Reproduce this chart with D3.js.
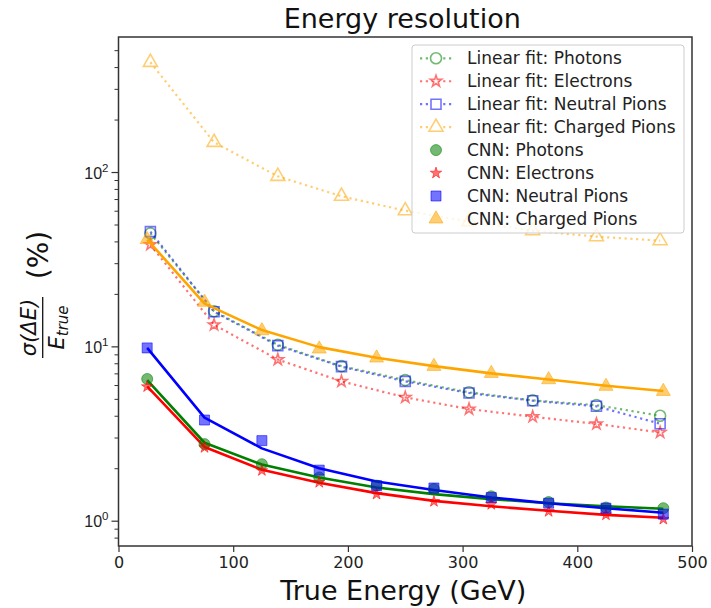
<!DOCTYPE html>
<html><head><meta charset="utf-8">
<script src="https://cdn.jsdelivr.net/npm/d3@7"></script>
<style>
html,body{margin:0;padding:0;background:#fff;}
svg{display:block;font-family:"DejaVu Sans",sans-serif;}
</style></head>
<body><svg id="chart" width="711" height="608"></svg>
<script>
// ---- data ----
const fitEnergy = [27.8, 83.3, 138.9, 194.4, 250, 305.6, 361.1, 416.7, 472.2];
const fitPhotons = [44.5, 15.9, 10.2, 7.7, 6.4, 5.45, 4.9, 4.6, 4.0];
const fitElectrons = [38.3, 13.3, 8.4, 6.3, 5.1, 4.37, 3.95, 3.59, 3.21];
const fitNeutralPions = [45.5, 15.8, 10.1, 7.65, 6.3, 5.4, 4.88, 4.53, 3.6];
const fitChargedPions = [426, 148, 94.5, 72.6, 60, 52, 46.1, 42.6, 40.4];

const cnnEnergy = [25, 75, 125, 175, 225, 275, 325, 375, 425, 475];
const cnnPhotons = [6.5, 2.75, 2.11, 1.77, 1.59, 1.52, 1.38, 1.28, 1.19, 1.18];
const cnnElectrons = [5.87, 2.63, 1.94, 1.66, 1.42, 1.29, 1.24, 1.13, 1.08, 1.02];
const cnnNeutralPions = [9.8, 3.78, 2.88, 1.95, 1.59, 1.54, 1.36, 1.26, 1.18, 1.09];
const cnnChargedPions = [41, 17.9, 12.3, 9.66, 8.58, 7.68, 7.0, 6.44, 5.9, 5.52];

// CNN resolution fit curves at the CNN energies
const curvePhotons = [6.4, 2.8, 2.1, 1.77, 1.55, 1.42, 1.33, 1.26, 1.21, 1.17];
const curveElectrons = [5.9, 2.65, 1.96, 1.65, 1.44, 1.30, 1.21, 1.14, 1.08, 1.04];
const curveNeutralPions = [9.8, 3.9, 2.6, 2.0, 1.68, 1.5, 1.36, 1.26, 1.18, 1.11];
const curveChargedPions = [41, 17.6, 12.4, 9.9, 8.6, 7.7, 7.0, 6.45, 5.95, 5.55];

const xTicks = [0, 100, 200, 300, 400, 500];
const yMajor = [1, 10, 100];
const yMinor = [0.8, 0.9, 2,3,4,5,6,7,8,9, 20,30,40,50,60,70,80,90, 200,300,400,500];

const legendLabels = ["Linear fit: Photons","Linear fit: Electrons","Linear fit: Neutral Pions","Linear fit: Charged Pions",
  "CNN: Photons","CNN: Electrons","CNN: Neutral Pions","CNN: Charged Pions"];

// ---- layout ----
const svg = d3.select("#chart");
const L = 118.5, R = 692, T = 37, B = 546;
const x = d3.scaleLinear().domain([0, 500]).range([L, R]);
const y = d3.scaleLog().domain([0.716, 595]).range([B, T]);

const colGreen = "#008000", colRed = "#ff0000", colBlue = "#0000ff", colOrange = "#ffa500";

const fitSeries = [
  {vals: fitPhotons, color: colGreen, sym: d3.symbolCircle, size: 95},
  {vals: fitElectrons, color: colRed, sym: d3.symbolStar, size: 40},
  {vals: fitNeutralPions, color: colBlue, sym: d3.symbolSquare, size: 100},
  {vals: fitChargedPions, color: colOrange, sym: d3.symbolTriangle, size: 85}
];
const cnnSeries = [
  {vals: cnnPhotons, curve: curvePhotons, color: colGreen, sym: d3.symbolCircle, size: 95},
  {vals: cnnElectrons, curve: curveElectrons, color: colRed, sym: d3.symbolStar, size: 40},
  {vals: cnnNeutralPions, curve: curveNeutralPions, color: colBlue, sym: d3.symbolSquare, size: 100},
  {vals: cnnChargedPions, curve: curveChargedPions, color: colOrange, sym: d3.symbolTriangle, size: 85}
];

const g = svg.append("g");
g.append("defs").append("clipPath").attr("id","clip").append("rect")
  .attr("x", L).attr("y", T).attr("width", R-L).attr("height", B-T);
const plot = g.append("g").attr("clip-path","url(#clip)");

// linear fit dotted lines + hollow markers
fitSeries.forEach(s => {
  const line = d3.line().x((d,i)=>x(fitEnergy[i])).y(d=>y(d));
  plot.append("path").datum(s.vals).attr("d", line)
    .attr("fill","none").attr("stroke", s.color).attr("stroke-opacity",0.55)
    .attr("stroke-width",2.2).attr("stroke-dasharray","2.2,3.6").attr("stroke-linecap","butt");
});
fitSeries.forEach(s => {
  plot.selectAll(null).data(s.vals).enter().append("path")
    .attr("d", d3.symbol().type(s.sym).size(s.size))
    .attr("transform",(d,i)=>`translate(${x(fitEnergy[i])},${y(d)})`)
    .attr("fill","none").attr("stroke", s.color).attr("stroke-opacity",0.55).attr("stroke-width",1.6);
});

// CNN curves and filled markers
cnnSeries.forEach(s => {
  const line = d3.line().x((d,i)=>x(cnnEnergy[i])).y(d=>y(d));
  plot.append("path").datum(s.curve).attr("d", line)
    .attr("fill","none").attr("stroke", s.color).attr("stroke-width",2.6).attr("stroke-linejoin","round");
});
cnnSeries.forEach(s => {
  plot.selectAll(null).data(s.vals).enter().append("path")
    .attr("d", d3.symbol().type(s.sym).size(s.size))
    .attr("transform",(d,i)=>`translate(${x(cnnEnergy[i])},${y(d)})`)
    .attr("fill", s.color).attr("fill-opacity",0.55)
    .attr("stroke", s.color).attr("stroke-opacity",0.55).attr("stroke-width",1);
});

// ---- axes ----
const axisColor = "#333";
const xAxis = d3.axisBottom(x).tickValues(xTicks).tickSize(6).tickPadding(5).tickFormat(d3.format("d"));
const xg = g.append("g").attr("transform",`translate(0,${B})`).call(xAxis);
xg.select(".domain").remove();
xg.selectAll("line").attr("stroke",axisColor).attr("stroke-width",1.2);
xg.selectAll("text").attr("font-size",16).attr("fill","#222").attr("font-family","DejaVu Sans");

const yAxisMinor = d3.axisLeft(y).tickValues(yMinor).tickSize(4).tickFormat("");
const ygm = g.append("g").attr("transform",`translate(${L},0)`).call(yAxisMinor);
ygm.select(".domain").remove();
ygm.selectAll("line").attr("stroke",axisColor).attr("stroke-width",1);

const yAxis = d3.axisLeft(y).tickValues(yMajor).tickSize(7).tickFormat("");
const ygM = g.append("g").attr("transform",`translate(${L},0)`).call(yAxis);
ygM.select(".domain").remove();
ygM.selectAll("line").attr("stroke",axisColor).attr("stroke-width",1.2);
ygM.selectAll(".tick").each(function(d){
  const t = d3.select(this).append("text").attr("x",-10).attr("y",6)
    .attr("text-anchor","end").attr("font-size",16).attr("fill","#222");
  t.append("tspan").text("10");
  t.append("tspan").attr("dy",-7).attr("font-size",11.5).text(String(Math.round(Math.log10(d))));
});

// frame
g.append("rect").attr("x",L).attr("y",T).attr("width",R-L).attr("height",B-T)
  .attr("fill","none").attr("stroke",axisColor).attr("stroke-width",1.5);

// ---- titles ----
svg.append("text").attr("x",(L+R)/2 - 3).attr("y",28).attr("text-anchor","middle")
  .attr("font-size",27).attr("fill","#111").text("Energy resolution");
svg.append("text").attr("x",(L+R)/2 - 2).attr("y",600).attr("text-anchor","middle")
  .attr("font-size",27).attr("fill","#111").text("True Energy (GeV)");

// y label: σ(ΔE)/E_true (%)
const yl = svg.append("g").attr("transform","translate(42.7,292) rotate(-90)");
yl.append("text").attr("x",-35.5).attr("y",-7).attr("text-anchor","middle")
  .attr("font-size",21).attr("font-style","italic").attr("fill","#111").text("σ(ΔE)");
yl.append("line").attr("x1",-66).attr("x2",-5).attr("y1",0).attr("y2",0)
  .attr("stroke","#111").attr("stroke-width",1.3);
const den = yl.append("text").attr("x",-35.5).attr("y",21.5).attr("text-anchor","middle")
  .attr("fill","#111").attr("font-style","italic");
den.append("tspan").attr("font-size",21).text("E");
den.append("tspan").attr("font-size",15).attr("dy",4).text("true");
yl.append("text").attr("x",37).attr("y",5).attr("text-anchor","middle")
  .attr("font-size",28).attr("fill","#111").text("(%)");

// ---- legend ----
const lg = svg.append("g");
lg.append("rect").attr("x",412).attr("y",45).attr("width",272).attr("height",188)
  .attr("rx",3).attr("fill","#fff").attr("fill-opacity",0.8)
  .attr("stroke","#ccc").attr("stroke-width",1);
legendLabels.forEach((lab,i) => {
  const cy = 58.3 + i*22.95;
  if (i < 4) {
    const s = fitSeries[i];
    lg.append("line").attr("x1",420).attr("x2",452).attr("y1",cy).attr("y2",cy)
      .attr("stroke",s.color).attr("stroke-opacity",0.55).attr("stroke-width",2.2)
      .attr("stroke-dasharray","2.2,3.6");
    lg.append("path").attr("d",d3.symbol().type(s.sym).size(s.size))
      .attr("transform",`translate(436,${cy})`).attr("fill","#fff")
      .attr("stroke",s.color).attr("stroke-opacity",0.55).attr("stroke-width",1.6);
  } else {
    const s = cnnSeries[i-4];
    lg.append("path").attr("d",d3.symbol().type(s.sym).size(s.size))
      .attr("transform",`translate(436,${cy})`).attr("fill",s.color).attr("fill-opacity",0.55)
      .attr("stroke",s.color).attr("stroke-opacity",0.55).attr("stroke-width",1);
  }
  lg.append("text").attr("x",467).attr("y",cy+6).attr("font-size",17).attr("fill","#222").text(lab);
});
</script></body></html>
